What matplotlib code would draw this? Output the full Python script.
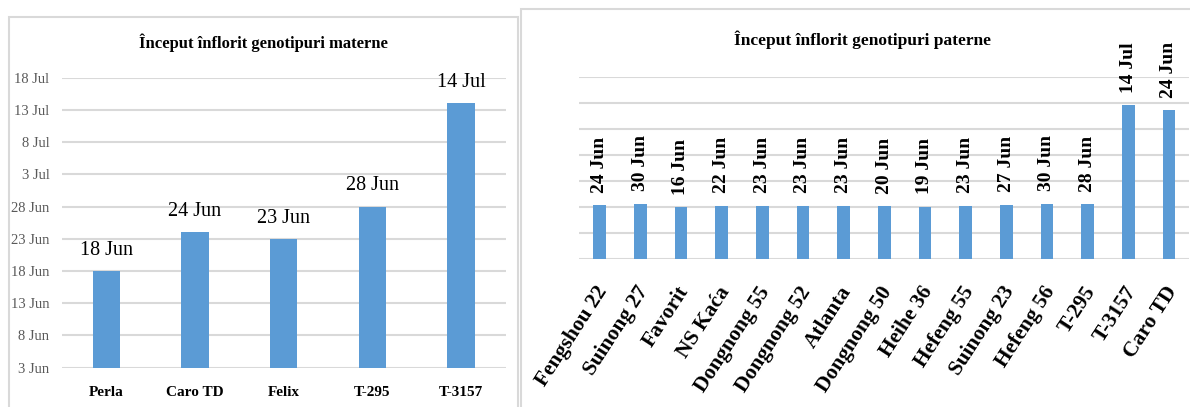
import datetime as dt
import numpy as np
import matplotlib
matplotlib.use("Agg")
import matplotlib.pyplot as plt
import matplotlib.dates as mdates
from matplotlib.patches import Rectangle
import matplotlib.transforms as mtransforms

plt.rcParams["font.family"] = ["Liberation Serif", "DejaVu Serif"]

# Maternal genotypes: start of flowering
maternal_names = ["Perla", "Caro TD", "Felix", "T-295", "T-3157"]
maternal_dates = ["2020-06-18", "2020-06-24", "2020-06-23", "2020-06-28", "2020-07-14"]
maternal_ticks = ["2020-06-03", "2020-06-08", "2020-06-13", "2020-06-18", "2020-06-23",
                  "2020-06-28", "2020-07-03", "2020-07-08", "2020-07-13", "2020-07-18"]

# Paternal genotypes: start of flowering
paternal_names = ["Fengshou 22", "Suinong 27", "Favorit", "NS Kaća", "Dongnong 55",
                  "Dongnong 52", "Atlanta", "Dongnong 50", "Heihe 36", "Hefeng 55",
                  "Suinong 23", "Hefeng 56", "T-295", "T-3157", "Caro TD"]
paternal_dates = ["2020-06-24", "2020-06-30", "2020-06-16", "2020-06-22", "2020-06-23",
                  "2020-06-23", "2020-06-23", "2020-06-20", "2020-06-19", "2020-06-23",
                  "2020-06-27", "2020-06-30", "2020-06-28", "2021-07-14", "2021-06-24"]
paternal_axis_start = "2019-12-01"
paternal_axis_step_days = 100
paternal_axis_steps = 7

BAR = "#5B9BD5"
GRID = "#D9D9D9"
TICK = "#595959"

W, H = 1190, 407
fig = plt.figure(figsize=(W / 100, H / 100), dpi=100)


def px_axes(x0, y0, x1, y1):
    return fig.add_axes([x0 / W, 1 - y1 / H, (x1 - x0) / W, (y1 - y0) / H])


def to_num(values):
    return mdates.date2num([dt.datetime.fromisoformat(v) for v in values])


def day_label(num):
    d = mdates.num2date(num)
    return f"{d.day} {d.strftime('%b')}"


# panel frames (open at the bottom edge of the image)
fig.patches.append(Rectangle((8.5 / W, -0.05), (518 - 8.5) / W, 1.05 - 16.5 / H,
                             transform=fig.transFigure, fill=False,
                             edgecolor=GRID, lw=1.5))
fig.patches.append(Rectangle((520.5 / W, -0.05), (1200 - 520.5) / W, 1.05 - 8.5 / H,
                             transform=fig.transFigure, fill=False,
                             edgecolor=GRID, lw=1.5))

# ---- left chart ----
axL = px_axes(62, 77.7, 505.5, 367.7)
yt = to_num(maternal_ticks)
mv = to_num(maternal_dates)
xL = np.arange(len(maternal_names))
barsL = axL.bar(xL, mv - yt[0], bottom=yt[0], width=0.31, color=BAR, zorder=3)
axL.set_ylim(yt[0], yt[-1])
axL.set_xlim(-0.5, len(maternal_names) - 0.5)
axL.set_yticks(yt)
axL.set_yticklabels([day_label(v) for v in yt], color=TICK, fontsize=10.5)
axL.set_xticks(xL)
axL.set_xticklabels(maternal_names, fontsize=11, fontweight="bold")
axL.tick_params(axis="y", length=0, pad=9)
axL.tick_params(axis="x", length=0, pad=13)
axL.grid(axis="y", color=GRID, lw=1.5, zorder=0)
for s in axL.spines.values():
    s.set_visible(False)
axL.bar_label(barsL, labels=[day_label(v) for v in mv], padding=8, fontsize=14.5)
fig.text(263 / W, 1 - 43 / H, "Început înflorit genotipuri materne",
         ha="center", va="center", fontsize=12, fontweight="bold")

# ---- right chart ----
axR = px_axes(579.2, 76.7, 1189.3, 259)
y0 = to_num([paternal_axis_start])[0]
ytR = y0 + paternal_axis_step_days * np.arange(paternal_axis_steps + 1)
pv = to_num(paternal_dates)
xR = np.arange(len(paternal_names))
barsR = axR.bar(xR, pv - y0, bottom=y0, width=0.31, color=BAR, zorder=3)
axR.set_ylim(ytR[0], ytR[-1])
axR.set_xlim(-0.5, len(paternal_names) - 0.5)
axR.set_yticks(ytR)
axR.set_yticklabels([])
axR.tick_params(axis="y", length=0)
axR.set_xticks(xR)
axR.set_xticklabels(paternal_names, fontsize=15.5, fontweight="bold",
                    rotation=57, ha="right", va="center", rotation_mode="anchor")
axR.tick_params(axis="x", length=0, pad=21)
shift = mtransforms.ScaledTranslation(4 / 100, 0, fig.dpi_scale_trans)
for lab in axR.get_xticklabels():
    lab.set_transform(lab.get_transform() + shift)
axR.grid(axis="y", color=GRID, lw=1.5, zorder=0)
for s in axR.spines.values():
    s.set_visible(False)
axR.bar_label(barsR, labels=[day_label(v) for v in pv], padding=9,
              rotation=90, fontsize=14, fontweight="bold")
fig.text(862 / W, 1 - 40 / H, "Început înflorit genotipuri paterne",
         ha="center", va="center", fontsize=12.5, fontweight="bold")

fig.savefig("out.png", dpi=100)
